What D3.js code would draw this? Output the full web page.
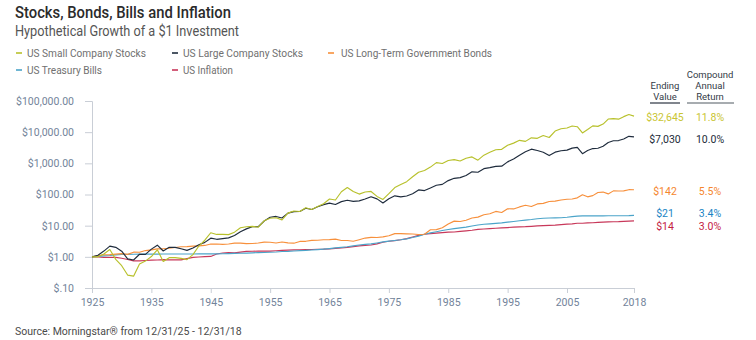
<!DOCTYPE html>
<html>
<head>
<meta charset="utf-8">
<script src="https://cdn.jsdelivr.net/npm/d3@7"></script>
<style>
  body { margin: 0; background: #fff; }
  svg { display: block; font-family: Roboto, "Liberation Sans", Arial, sans-serif; }
</style>
</head>
<body>
<svg id="chart" width="756" height="340"></svg>
<script>
// year-end values of $1 invested at 12/31/1925
var years = d3.range(1925, 2019);

var smallStocks = [1.00, 1.00, 1.23, 1.71, 0.83, 0.52, 0.26, 0.24, 0.59, 0.73,
  1.02, 1.68, 0.71, 0.94, 0.94, 0.89, 0.81, 1.18, 2.22, 3.41,
  5.92, 5.23, 5.28, 5.17, 6.19, 8.58, 9.25, 9.53, 8.91, 14.31,
  17.24, 17.98, 15.36, 25.33, 29.48, 28.51, 37.66, 33.18, 41.00, 50.64,
  71.79, 66.76, 122.5, 166.6, 124.9, 103.1, 120.1, 125.4, 86.7, 69.4,
  106.0, 166.9, 209.2, 258.3, 370.6, 518.4, 590.4, 755.8, 1055.6, 985.2,
  1228, 1312, 1190, 1462, 1611, 1264, 1828, 2255, 2728, 2813,
  3782, 4448, 5462, 5063, 6571, 6336, 7778, 6745, 10840, 12830,
  13560, 15760, 14930, 9450, 12110, 15890, 15370, 18180, 26370, 27140,
  26170, 31470, 36700, 32645];

var largeStocks = [1.00, 1.12, 1.53, 2.20, 2.02, 1.52, 0.86, 0.79, 1.21, 1.20,
  1.77, 2.37, 1.54, 2.02, 2.01, 1.82, 1.61, 1.93, 2.43, 2.91,
  3.97, 3.65, 3.85, 4.06, 4.83, 6.36, 7.89, 9.34, 9.24, 14.11,
  18.56, 19.78, 17.65, 25.30, 28.33, 28.46, 36.11, 32.96, 40.48, 47.15,
  53.02, 47.69, 59.12, 65.66, 60.08, 62.47, 71.41, 84.96, 72.50, 53.31,
  73.14, 90.58, 84.07, 89.59, 106.1, 140.5, 133.6, 162.2, 198.7, 211.2,
  279.1, 330.7, 348.0, 406.5, 534.5, 517.5, 675.6, 727.4, 800.1, 810.5,
  1113.9, 1371.0, 1828.3, 2350.9, 2845.6, 2586.5, 2279.1, 1775.3, 2284.8, 2533.2,
  2657.6, 3077.3, 3246.4, 2045.4, 2586.1, 2975.7, 3038.4, 3525.0, 4666.8, 5305.7,
  5379.5, 6022.7, 7337.7, 7030];

var govBonds = [1.00, 1.08, 1.17, 1.18, 1.22, 1.27, 1.20, 1.41, 1.40, 1.59,
  1.67, 1.80, 1.81, 1.88, 1.99, 2.11, 2.13, 2.20, 2.25, 2.32,
  2.57, 2.58, 2.51, 2.59, 2.75, 2.74, 2.64, 2.67, 2.77, 2.97,
  2.94, 2.77, 2.98, 2.81, 2.74, 3.12, 3.15, 3.37, 3.41, 3.53,
  3.56, 3.69, 3.35, 3.33, 3.16, 3.54, 4.00, 4.23, 4.18, 4.36,
  4.76, 5.56, 5.53, 5.46, 5.39, 5.19, 5.30, 7.42, 7.44, 8.59,
  11.27, 13.99, 13.61, 14.97, 17.68, 18.77, 22.40, 24.20, 28.66, 26.44,
  34.81, 34.45, 39.94, 45.16, 41.26, 49.81, 51.94, 59.71, 61.33, 66.54,
  70.27, 71.64, 78.06, 97.69, 84.15, 92.01, 116.0, 119.8, 104.5, 130.7,
  129.2, 130.9, 142.6, 142];

var treasuryBills = [1.00, 1.03, 1.07, 1.10, 1.16, 1.19, 1.20, 1.21, 1.22, 1.22,
  1.22, 1.22, 1.23, 1.23, 1.23, 1.23, 1.23, 1.23, 1.24, 1.24,
  1.25, 1.25, 1.26, 1.27, 1.29, 1.30, 1.32, 1.34, 1.37, 1.38,
  1.40, 1.43, 1.48, 1.50, 1.54, 1.58, 1.61, 1.66, 1.71, 1.77,
  1.84, 1.93, 2.01, 2.11, 2.25, 2.40, 2.50, 2.60, 2.79, 3.01,
  3.19, 3.35, 3.52, 3.78, 4.16, 4.63, 5.32, 5.87, 6.39, 7.02,
  7.56, 8.03, 8.47, 9.01, 9.76, 10.48, 11.08, 11.46, 11.80, 12.27,
  12.97, 13.63, 14.34, 15.04, 15.75, 16.69, 17.33, 17.61, 17.78, 17.99,
  18.57, 19.44, 20.34, 20.64, 20.67, 20.69, 20.70, 20.72, 20.73, 20.74,
  20.75, 20.81, 20.99, 21.39];

var inflation = [1.00, 0.99, 0.96, 0.96, 0.96, 0.90, 0.82, 0.74, 0.74, 0.76,
  0.78, 0.79, 0.81, 0.80, 0.80, 0.80, 0.88, 0.96, 0.99, 1.01,
  1.03, 1.23, 1.33, 1.37, 1.34, 1.42, 1.50, 1.51, 1.52, 1.52,
  1.53, 1.57, 1.62, 1.65, 1.67, 1.69, 1.70, 1.72, 1.75, 1.77,
  1.81, 1.87, 1.92, 2.01, 2.13, 2.25, 2.32, 2.40, 2.61, 2.94,
  3.15, 3.30, 3.52, 3.84, 4.35, 4.89, 5.32, 5.53, 5.74, 5.96,
  6.19, 6.26, 6.54, 6.83, 7.14, 7.58, 7.81, 8.04, 8.26, 8.48,
  8.70, 8.99, 9.14, 9.29, 9.54, 9.87, 10.02, 10.26, 10.45, 10.81,
  11.18, 11.46, 11.92, 11.93, 12.26, 12.44, 12.82, 13.04, 13.23, 13.32,
  13.41, 13.70, 13.99, 14.27];

var seriesNames = ["US Small Company Stocks", "US Large Company Stocks", "US Long-Term Government Bonds",
  "US Treasury Bills", "US Inflation"];
var endingLabels = ["$32,645", "$7,030", "$142", "$21", "$14"];
var returnLabels = ["11.8%", "10.0%", "5.5%", "3.4%", "3.0%"];
var xTicks = [1925, 1935, 1945, 1955, 1965, 1975, 1985, 1995, 2005, 2018];
var yTicks = [0.1, 1, 10, 100, 1000, 10000, 100000];
var yTickLabels = ["$.10", "$1.00", "$10.00", "$100.00", "$1,000.00", "$10,000.00", "$100,000.00"];

var colors = ["#b8c12c", "#1f2c3d", "#f7903c", "#4ba4c9", "#c8385a"];
var textColors = ["#c9c532", "#222b38", "#f5862e", "#1a84c4", "#c4213f"];

var svg = d3.select("#chart");

// x axis compresses after 2005 the way the original does
var x = d3.scaleLinear()
    .domain([1925, 2005, 2018])
    .range([92, 567, 634]);

var y = d3.scaleLog()
    .domain([0.1, 100000])
    .range([288, 101]);

// titles
svg.append("text")
    .attr("x", 15).attr("y", 18)
    .attr("fill", "#2b2b2b")
    .attr("font-size", 16.5)
    .attr("font-weight", 500)
    .attr("textLength", 216)
    .attr("lengthAdjust", "spacingAndGlyphs")
    .text("Stocks, Bonds, Bills and Inflation");

svg.append("text")
    .attr("x", 15).attr("y", 36)
    .attr("fill", "#555")
    .attr("font-size", 14)
    .attr("textLength", 224)
    .attr("lengthAdjust", "spacingAndGlyphs")
    .text("Hypothetical Growth of a $1 Investment");

// legend
var legendPos = [[16, 53], [172, 53], [328, 53], [16, 70], [172, 70]];
var legendWidth = [119, 120, 151, 75, 50];
seriesNames.forEach(function(name, i) {
  var lg = svg.append("g").attr("transform", "translate(" + legendPos[i][0] + "," + legendPos[i][1] + ")");
  lg.append("line")
      .attr("x1", 0).attr("x2", 6)
      .attr("stroke", colors[i])
      .attr("stroke-width", 1.6);
  lg.append("text")
      .attr("x", i === 2 ? 13 : 11)
      .attr("dy", "0.35em")
      .attr("fill", "#707070")
      .attr("font-size", 10.5)
      .attr("textLength", legendWidth[i])
      .attr("lengthAdjust", "spacingAndGlyphs")
      .text(name);
});

// axes
var yAxis = svg.append("g")
    .attr("transform", "translate(92,0)")
    .call(d3.axisLeft(y)
      .tickValues(yTicks)
      .tickFormat(function(d, i) { return yTickLabels[i]; })
      .tickSize(7)
      .tickPadding(11));

var xAxis = svg.append("g")
    .attr("transform", "translate(0,288)")
    .call(d3.axisBottom(x)
      .tickValues(xTicks)
      .tickFormat(d3.format("d"))
      .tickSizeOuter(0)
      .tickSize(5)
      .tickPadding(6));

[yAxis, xAxis].forEach(function(ax) {
  ax.select(".domain").attr("stroke", "#c9ced6");
  ax.selectAll(".tick line").attr("stroke", "#c9ced6");
  ax.selectAll(".tick text")
      .attr("fill", "#72839a")
      .attr("font-size", 10.5)
      .attr("font-family", "Roboto, 'Liberation Sans', Arial, sans-serif");
});

// lines
var allSeries = [smallStocks, largeStocks, govBonds, treasuryBills, inflation];

var line = d3.line()
    .x(function(d, i) { return x(years[i]); })
    .y(function(d) { return y(d); });

// draw bottom-up so stocks sit on top
[4, 3, 2, 1, 0].forEach(function(i) {
  svg.append("path")
      .datum(allSeries[i])
      .attr("fill", "none")
      .attr("stroke", colors[i])
      .attr("stroke-width", 1.15)
      .attr("stroke-linejoin", "round")
      .attr("d", line);
});

// right-hand table
var colValue = 665, colReturn = 710;

["Ending", "Value"].forEach(function(t, i) {
  svg.append("text")
      .attr("x", colValue).attr("y", 89 + i * 11)
      .attr("text-anchor", "middle")
      .attr("fill", "#333b47")
      .attr("font-size", 9.5)
      .text(t);
});
["Compound", "Annual", "Return"].forEach(function(t, i) {
  svg.append("text")
      .attr("x", colReturn).attr("y", 78 + i * 11)
      .attr("text-anchor", "middle")
      .attr("fill", "#333b47")
      .attr("font-size", 9.5)
      .text(t);
});
svg.append("line")
    .attr("x1", 650).attr("x2", 680)
    .attr("y1", 103).attr("y2", 103)
    .attr("stroke", "#2a3340").attr("stroke-width", 1.2);
svg.append("line")
    .attr("x1", 687).attr("x2", 734)
    .attr("y1", 103).attr("y2", 103)
    .attr("stroke", "#8a9096").attr("stroke-width", 1.6);

var labelY = [117, 139, 191, 213.5, 226];
endingLabels.forEach(function(t, i) {
  svg.append("text")
      .attr("x", colValue).attr("y", labelY[i])
      .attr("dy", "0.35em")
      .attr("text-anchor", "middle")
      .attr("fill", textColors[i])
      .attr("font-size", 10.5)
      .text(t);
  svg.append("text")
      .attr("x", colReturn).attr("y", labelY[i])
      .attr("dy", "0.35em")
      .attr("text-anchor", "middle")
      .attr("fill", textColors[i])
      .attr("font-size", 10.5)
      .text(returnLabels[i]);
});

// source
svg.append("text")
    .attr("x", 15).attr("y", 335)
    .attr("fill", "#4a4a4a")
    .attr("font-size", 10.5)
    .text("Source: Morningstar\u00ae from 12/31/25 - 12/31/18");
</script>
</body>
</html>
